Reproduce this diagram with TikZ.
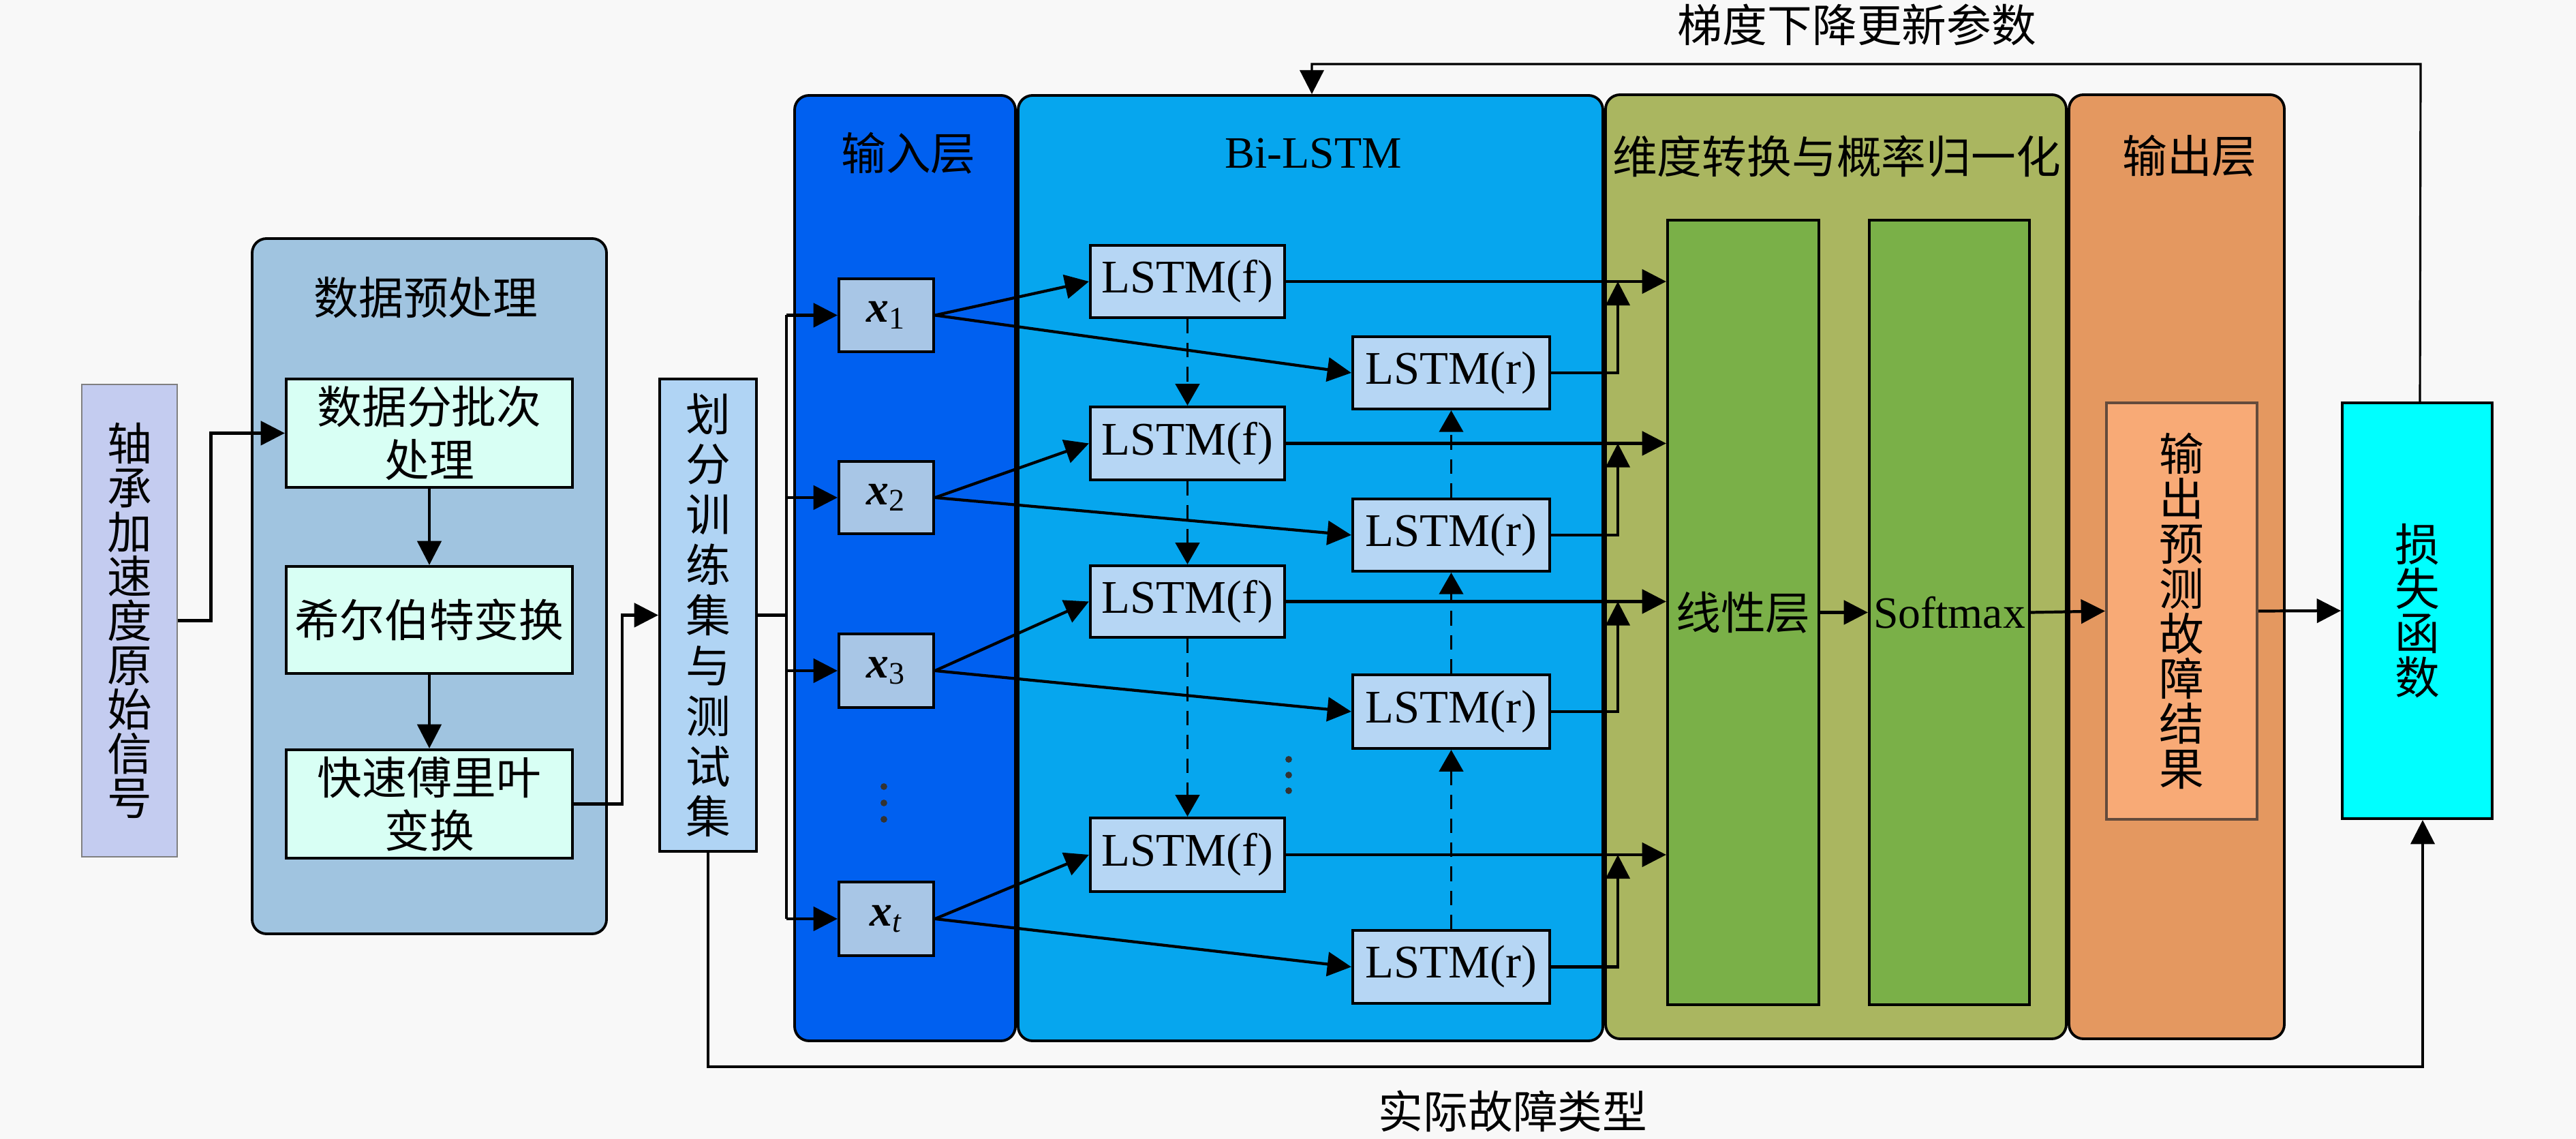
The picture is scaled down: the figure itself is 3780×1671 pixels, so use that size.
\documentclass[tikz,border=0pt]{standalone}
\usepackage{fontspec}
\setmainfont{Liberation Serif}
\newfontfamily\cjk{Noto Sans CJK SC}
\usetikzlibrary{arrows.meta,calc}
\definecolor{bgc}{RGB}{248,248,248}
\definecolor{sigc}{RGB}{196,204,240}
\definecolor{prec}{RGB}{160,196,224}
\definecolor{minty}{RGB}{216,255,244}
\definecolor{splitc}{RGB}{176,212,244}
\definecolor{inpc}{RGB}{0,96,240}
\definecolor{bilc}{RGB}{6,166,238}
\definecolor{xc}{RGB}{168,198,230}
\definecolor{lstmc}{RGB}{182,214,244}
\definecolor{dimc}{RGB}{170,182,96}
\definecolor{greenc}{RGB}{122,176,72}
\definecolor{outc}{RGB}{228,152,96}
\definecolor{resc}{RGB}{248,170,118}
\definecolor{resb}{RGB}{100,75,60}
\definecolor{lossc}{RGB}{0,255,255}
\newcommand\rbox[7]{\node[#2, minimum width={(#5-#3)*0.01cm}, minimum height={(#6-#4)*0.01cm}] (#1) at ({(#3+#5)/2},{(#4+#6)/2}) {#7};}
\newcommand\xs[1]{\textbf{\textit{x}}\textsubscript{#1}}
\tikzset{
  cjkf/.style={font=\cjk\fontsize{18.7}{18.5}\selectfont},
  latf/.style={font=\fontsize{18.7}{20}\selectfont},
  lstmf/.style={font=\fontsize{19.5}{20}\selectfont},
  panel/.style={draw=black, line width=1.1pt, rounded corners=6pt, inner sep=0pt},
  boxs/.style={draw=black, line width=1.2pt, inner sep=0pt, align=center},
  vtext/.style={cjkf, align=center},
  arr/.style={line width=1.2pt, -{Triangle[length=10pt,width=10pt]}},
  darr/.style={line width=1.1pt, dash pattern=on 6pt off 4pt, -{Triangle[length=9pt,width=10pt]}},
  plain/.style={line width=1.2pt},
  fbarr/.style={line width=0.9pt, -{Triangle[length=10pt,width=10pt]}},
}
\begin{document}
\begin{tikzpicture}[x=0.01cm, y=-0.01cm]
\useasboundingbox (0,0) rectangle (3780,1671);
\fill[bgc] (0,0) rectangle (3780,1671);

% signal
\rbox{sig}{boxs, draw=gray, line width=0.8pt, fill=sigc, vtext}{120}{564}{260}{1257}{轴\\承\\加\\速\\度\\原\\始\\信\\号}

% preprocessing panel
\rbox{pre}{panel, fill=prec}{370}{350}{890}{1370}{}
\node[cjkf] (pret) at (625,437) {数据预处理};
\rbox{b1}{boxs, fill=minty, cjkf, font=\cjk\fontsize{18.7}{22}\selectfont}{420}{556}{840}{715}{数据分批次\\处理}
\rbox{b2}{boxs, fill=minty, cjkf}{420}{831}{840}{988}{希尔伯特变换}
\rbox{b3}{boxs, fill=minty, cjkf, font=\cjk\fontsize{18.7}{22}\selectfont}{420}{1100}{840}{1259}{快速傅里叶\\变换}

% split box
\rbox{split}{boxs, fill=splitc, vtext, font=\cjk\fontsize{18.7}{21}\selectfont}{968}{556}{1110}{1249}{划\\分\\训\\练\\集\\与\\测\\试\\集}

% panels
\rbox{inp}{panel, fill=inpc}{1166}{140}{1490}{1527}{}
\rbox{bil}{panel, fill=bilc}{1494}{140}{2352}{1527}{}
\rbox{dim}{panel, fill=dimc}{2356}{139}{3032}{1524}{}
\rbox{outp}{panel, fill=outc}{3036}{139}{3352}{1524}{}
\node[cjkf] (inpt) at (1333,225) {输入层};
\node[latf] (bilt) at (1927,225) {Bi-LSTM};
\node[cjkf] (dimt) at (2695,229) {维度转换与概率归一化};
\node[cjkf] (outt) at (3213,229) {输出层};

% inputs
\rbox{x1}{boxs, fill=xc, latf}{1231}{409}{1370}{516}{\xs{1}}
\rbox{x2}{boxs, fill=xc, latf}{1231}{677}{1370}{783}{\xs{2}}
\rbox{x3}{boxs, fill=xc, latf}{1231}{930}{1370}{1038}{\xs{3}}
\rbox{xt}{boxs, fill=xc, latf}{1231}{1294}{1370}{1402}{\textbf{\textit{x}}\textsubscript{\textit{t}}}
\foreach \yy in {1154,1178,1202} \fill[black!80] (1297,\yy) circle[radius=1.4pt];

% LSTM boxes
\rbox{f1}{boxs, fill=lstmc, lstmf}{1600}{360}{1885}{466}{LSTM(f)}
\rbox{f2}{boxs, fill=lstmc, lstmf}{1600}{597}{1885}{704}{LSTM(f)}
\rbox{f3}{boxs, fill=lstmc, lstmf}{1600}{830}{1885}{935}{LSTM(f)}
\rbox{f4}{boxs, fill=lstmc, lstmf}{1600}{1200}{1885}{1308}{LSTM(f)}
\rbox{r1}{boxs, fill=lstmc, lstmf}{1985}{494}{2274}{600}{LSTM(r)}
\rbox{r2}{boxs, fill=lstmc, lstmf}{1985}{732}{2274}{838}{LSTM(r)}
\rbox{r3}{boxs, fill=lstmc, lstmf}{1985}{990}{2274}{1098}{LSTM(r)}
\rbox{r4}{boxs, fill=lstmc, lstmf}{1985}{1365}{2274}{1472}{LSTM(r)}
\foreach \yy in {1114,1137,1160} \fill[black!80] (1891,\yy) circle[radius=1.4pt];

% dim panel boxes
\rbox{lin}{boxs, fill=greenc, cjkf}{2447}{323}{2669}{1474}{线性层}
\rbox{soft}{boxs, fill=greenc, latf}{2743}{323}{2978}{1474}{Softmax}
\rbox{res}{boxs, draw=resb, fill=resc, vtext, font=\cjk\fontsize{18.7}{18.8}\selectfont}{3091}{591}{3312}{1202}{输\\出\\预\\测\\故\\障\\结\\果}
\rbox{loss}{boxs, fill=lossc, vtext}{3437}{591}{3657}{1201}{损\\失\\函\\数}

% preprocessing arrows
\draw[arr] (sig.east) -- ++(48,0) |- (b1.west);
\draw[arr] (b1.south) -- (b2.north);
\draw[arr] (b2.south) -- (b3.north);
\draw[arr] (b3.east) -- ++(71,0) |- (split.west);

% trunk to inputs
\coordinate (trk) at (1154,0);
\draw[plain] (split.east) -- (trk |- split.east);
\draw[plain] (trk |- x1.west) -- (trk |- xt.west);
\foreach \n in {x1,x2,x3,xt} \draw[arr] (trk |- \n.west) -- (\n.west);

% inputs to LSTM
\draw[arr] (x1.east) -- (f1.west);
\draw[arr] (x1.east) -- (r1.west);
\draw[arr] (x2.east) -- (f2.west);
\draw[arr] (x2.east) -- (r2.west);
\draw[arr] (x3.east) -- (f3.west);
\draw[arr] (x3.east) -- (r3.west);
\draw[arr] (xt.east) -- (f4.west);
\draw[arr] (xt.east) -- (r4.west);

% recurrent dashed
\draw[darr] (f1.south) -- (f2.north);
\draw[darr] (f2.south) -- (f3.north);
\draw[darr] (f3.south) -- (f4.north);
\draw[darr] (r4.north) -- (r3.south);
\draw[darr] (r3.north) -- (r2.south);
\draw[darr] (r2.north) -- (r1.south);

% LSTM to linear
\coordinate (cj) at (2374,0);
\draw[arr] (f1.east) -- (f1.east -| lin.west);
\draw[arr] (f2.east) -- (f2.east -| lin.west);
\draw[arr] (f3.east) -- (f3.east -| lin.west);
\draw[arr] (f4.east) -- (f4.east -| lin.west);
\draw[arr] (r1.east) -| (cj |- f1.east);
\draw[arr] (r2.east) -| (cj |- f2.east);
\draw[arr] (r3.east) -| (cj |- f3.east);
\draw[arr] (r4.east) -| (cj |- f4.east);

% output chain
\draw[arr] (lin.east) -- (soft.west);
\draw[arr] (soft.east) -- (res.west);
\draw[arr] (res.east) -- (loss.west);

% feedback
\coordinate (fbR) at (3552,94);
\coordinate (fbL) at (1925,94);
\draw[fbarr] ([xshift=0.04cm]loss.north) -- (fbR) -- (fbL) -- (fbL |- bil.north);
\node[cjkf] (fbt) at (2725,36) {梯度下降更新参数};

% actual labels
\coordinate (bot) at (0,1565);
\draw[fbarr] (split.south) -- (split.south |- bot) -| ([xshift=0.08cm]loss.south);
\node[cjkf] (bott) at (2220,1630) {实际故障类型};
\end{tikzpicture}
\end{document}
